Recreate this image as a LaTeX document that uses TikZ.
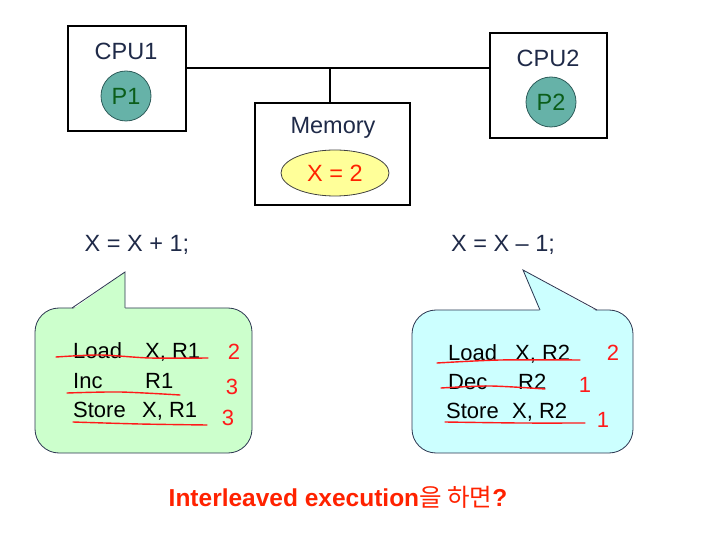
\documentclass[tikz,border=0pt]{standalone}
\usepackage{fontspec}
\setmainfont{Liberation Sans}
\newfontfamily\krfont{Noto Sans CJK KR}
\usetikzlibrary{positioning,shapes.geometric}
\definecolor{navy}{HTML}{1F2A48}
\definecolor{tealfill}{HTML}{66B2A8}
\definecolor{tealline}{HTML}{2E5C5A}
\definecolor{pgreen}{HTML}{0B5E1A}
\definecolor{memfill}{HTML}{FFFF99}
\definecolor{xred}{HTML}{FF2200}
\definecolor{bubgreen}{HTML}{CCFFCC}
\definecolor{bubblue}{HTML}{CCFFFF}
\definecolor{bubline}{HTML}{2B3550}
\definecolor{pen}{HTML}{FF1A1A}
\begin{document}
\begin{tikzpicture}[x=1pt,y=-1pt]
    \tikzset{unit/.style = {draw, line width=2.4pt, inner sep=0pt}}
    \tikzset{lbl/.style = {text=navy, font=\fontsize{23.5}{27}\selectfont}}
    \tikzset{proc/.style = {shape=circle, draw=tealline, fill=tealfill, line width=0.8pt,
        minimum size=50pt, inner sep=0pt, text=pgreen, font=\fontsize{23.5}{27}\selectfont}}
    \tikzset{bubble/.style = {draw=bubline, line width=0.8pt, rounded corners=24pt, inner sep=0pt}}
    \tikzset{code/.style = {anchor=base west, inner sep=0pt, font=\fontsize{22}{26}\selectfont}}
    \tikzset{marknum/.style = {text=pen, font=\fontsize{22}{26}\selectfont}}
    \tikzset{ink/.style = {draw=pen, line width=1.4pt, line cap=round}}
    \useasboundingbox (0,0) rectangle (709,534);
    % processors and memory
    \node[unit, minimum width=118pt, minimum height=105pt] (cpu1) at (127,78.5) {};
    \node[lbl] (cpu1lbl) at (126,51) {CPU1};
    \node[proc] (p1) at (126,96) {P1};
    \node[unit, minimum width=117pt, minimum height=105pt] (cpu2) at (548.5,85.5) {};
    \node[lbl] (cpu2lbl) at (548,58) {CPU2};
    \node[proc] (p2) at (551,102) {P2};
    \node[unit, minimum width=155pt, minimum height=102pt] (mem) at (332.5,154) {};
    \node[lbl] (memlbl) at (333,128) {Memory};
    \node[draw=black!75, fill=memfill, ellipse, line width=0.8pt, minimum width=108pt,
        minimum height=46pt, inner sep=0pt, text=xred, font=\fontsize{23.5}{27}\selectfont]
        (xval) at (335,173) {X = 2};
    % bus
    \coordinate (bus) at (330,68);
    \draw[line width=1.6pt] (bus -| cpu1.east) -- (bus -| cpu2.west);
    \draw[line width=1.6pt] (bus) -- (bus |- mem.north);
    % statements
    \node[lbl] (inc) at (137,245) {X = X + 1;};
    \node[lbl] (dec) at (503,245) {X = X -- 1;};
    % speech bubbles
    \node[bubble, fill=bubgreen, minimum width=217pt, minimum height=145pt] (bub1) at (143.5,380.5) {};
    \fill[bubgreen] (72.5,309.5) -- (125,272) -- (125,309.5) -- cycle;
    \draw[bubline, line width=0.8pt] (72,308) -- (125,272) -- (125,308);
    \node[bubble, fill=bubblue, minimum width=221pt, minimum height=143pt] (bub2) at (522.5,381.5) {};
    \fill[bubblue] (540,311.5) -- (523,270) -- (597,311.5) -- cycle;
    \draw[bubline, line width=0.8pt] (540,310) -- (523,270) -- (597,310);
    % code of P1
    \node[code] (l1a) at (73,358) {Load};
    \node[code] (l1b) at (145,358) {X, R1};
    \node[code] (l2a) at (73,388) {Inc};
    \node[code] (l2b) at (145,388) {R1};
    \node[code] (l3a) at (73,417) {Store};
    \node[code] (l3b) at (142,417) {X, R1};
    % code of P2
    \node[code] (r1a) at (448,360) {Load};
    \node[code] (r1b) at (515,360) {X, R2};
    \node[code] (r2a) at (448,389) {Dec};
    \node[code] (r2b) at (518,389) {R2};
    \node[code] (r3a) at (446,418) {Store};
    \node[code] (r3b) at (512,418) {X, R2};
    % red pen marks
    \draw[ink] plot[smooth] coordinates {(56,357) (100,355) (150,358) (208,358)};
    \draw[ink] plot[smooth] coordinates {(67,393) (120,392) (180,395)};
    \draw[ink] plot[smooth] coordinates {(73,422) (140,424) (207,425)};
    \draw[ink] plot[smooth] coordinates {(437,363) (500,360) (580,360)};
    \draw[ink] plot[smooth] coordinates {(441,388) (490,386) (545,389)};
    \draw[ink] plot[smooth] coordinates {(445,422) (520,423) (585,423)};
    \node[marknum] (n1) at (234,352) {2};
    \node[marknum] (n2) at (232,387) {3};
    \node[marknum] (n3) at (228,418) {3};
    \node[marknum] (n4) at (613,353) {2};
    \node[marknum] (n5) at (585,385) {1};
    \node[marknum] (n6) at (603,420) {1};
    % question
    \node[text=xred, font=\fontsize{24.5}{28}\selectfont] (ask) at (338,497)
        {\bfseries Interleaved execution{\mdseries\krfont 을 하면}?};
\end{tikzpicture}
\end{document}
